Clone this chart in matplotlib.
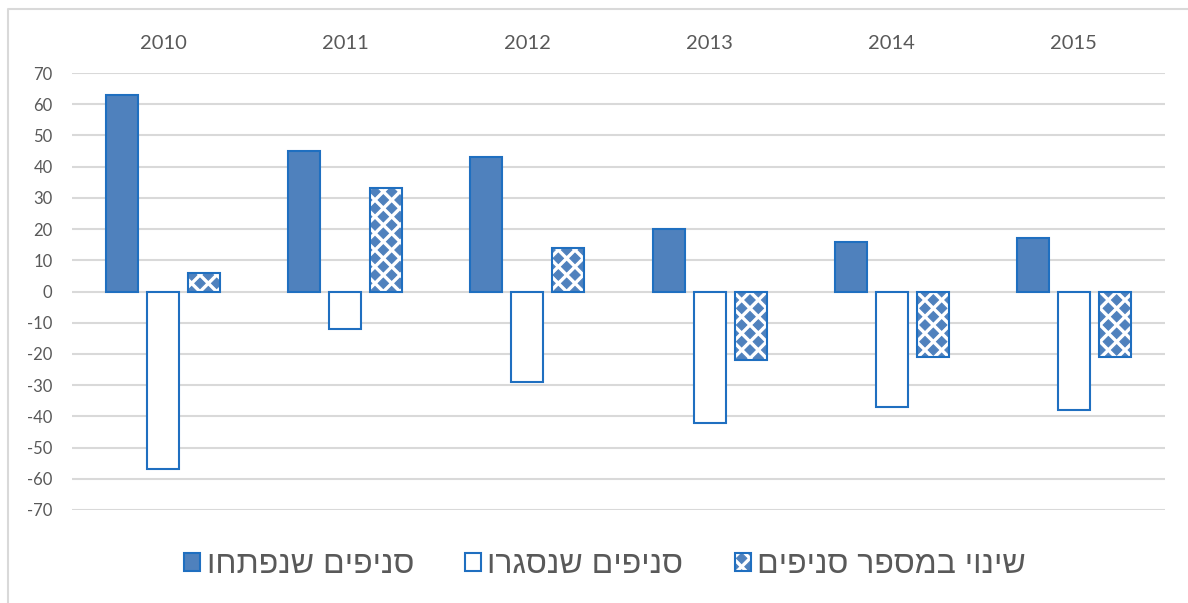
import matplotlib
matplotlib.use("Agg")
import matplotlib.pyplot as plt
import matplotlib.hatch as mhatch
from matplotlib.path import Path
from matplotlib.lines import Line2D
import numpy as np

# data
years = ['2010', '2011', '2012', '2013', '2014', '2015']
opened = [63, 45, 43, 20, 16, 17]
closed = [-57, -12, -29, -42, -37, -38]
change = [6, 33, 14, -22, -21, -21]
yticks = list(range(-70, 80, 10))

# series names (logical Hebrew order)
lbl_opened = 'סניפים שנפתחו'
lbl_closed = 'סניפים שנסגרו'
lbl_change = 'שינוי במספר סניפים'


def rtl(s):
    """ matplotlib has no bidi support, so flip Hebrew text for display """
    return s[::-1]


class DiamondHatch(mhatch.HatchPatternBase):
    """ filled diamonds on a checkerboard, stands in for the '*' hatch """
    n = 12
    r = 0.62

    def __init__(self, hatch, density):
        self.pts = [(i, j) for i in range(self.n + 1) for j in range(self.n + 1)
                    if (i + j) % 2 == 0]
        self.num_vertices = len(self.pts) * 5 if '*' in hatch else 0

    def set_vertices_and_codes(self, vertices, codes):
        step = 1.0 / self.n
        d = self.r * step
        shape = np.array([[0, -d], [d, 0], [0, d], [-d, 0], [0, -d]])
        for k, (i, j) in enumerate(self.pts):
            vertices[k*5:(k+1)*5] = shape + [i * step, j * step]
            codes[k*5:(k+1)*5] = [Path.MOVETO, Path.LINETO, Path.LINETO,
                                  Path.LINETO, Path.CLOSEPOLY]


mhatch._hatch_types = [t for t in mhatch._hatch_types if t is not mhatch.Stars] + [DiamondHatch]

FACE = '#4F81BD'
EDGE = '#1F6FC0'
GRID = '#D9D9D9'
TXT = '#595959'

plt.rcParams['font.family'] = ['Lato', 'DejaVu Sans']
plt.rcParams['axes.unicode_minus'] = False
plt.rcParams['hatch.linewidth'] = 0.8

fig = plt.figure(figsize=(11.88, 6.03), dpi=100)
ax = fig.add_axes([72/1188, 1 - 510/603, (1165-72)/1188, 437/603])

x = np.arange(len(years))
w = 0.176
off = 0.225

b1 = ax.bar(x - off, opened, w, color=FACE, edgecolor=EDGE, linewidth=1.5, zorder=3)
b2 = ax.bar(x, closed, w, color='white', edgecolor=EDGE, linewidth=1.5, zorder=3)
b3h = ax.bar(x + off, change, w, color='white', edgecolor=FACE, linewidth=0,
             hatch='*', zorder=3)
b3e = ax.bar(x + off, change, w, fill=False, edgecolor=EDGE, linewidth=1.5, zorder=4)

ax.set_xlim(-0.5, len(years) - 0.5)
ax.set_ylim(-70, 70)
ax.set_yticks(yticks)
ax.set_xticks(x)
ax.set_xticklabels(years)
ax.xaxis.tick_top()
ax.tick_params(axis='x', length=0, pad=15, labelsize=14.5, labelcolor=TXT)
ax.tick_params(axis='y', length=0, pad=14, labelsize=12, labelcolor=TXT)
for lab in ax.get_yticklabels():
    lab.set_horizontalalignment('right')
ax.grid(axis='y', color=GRID, linewidth=1.5, zorder=0)
for s in ax.spines.values():
    s.set_visible(False)

# chart area border (cut off at right / bottom like the screenshot)
fig.add_artist(Line2D([8/1188, 8/1188, 1.0], [0.0, 1 - 9/603, 1 - 9/603],
                      transform=fig.transFigure, color=GRID, linewidth=1.5))

fig.legend([b1, b2, (b3h, b3e)],
           [rtl(lbl_opened), rtl(lbl_closed), rtl(lbl_change)],
           loc='center', bbox_to_anchor=(605/1188, 1 - 565/603), ncol=3,
           frameon=False, prop={'family': ['Liberation Sans', 'DejaVu Sans'], 'size': 23},
           labelcolor=TXT, handlelength=0.5, handleheight=0.5,
           handletextpad=0.2, columnspacing=1.6)

fig.savefig('out.png', dpi=100)
